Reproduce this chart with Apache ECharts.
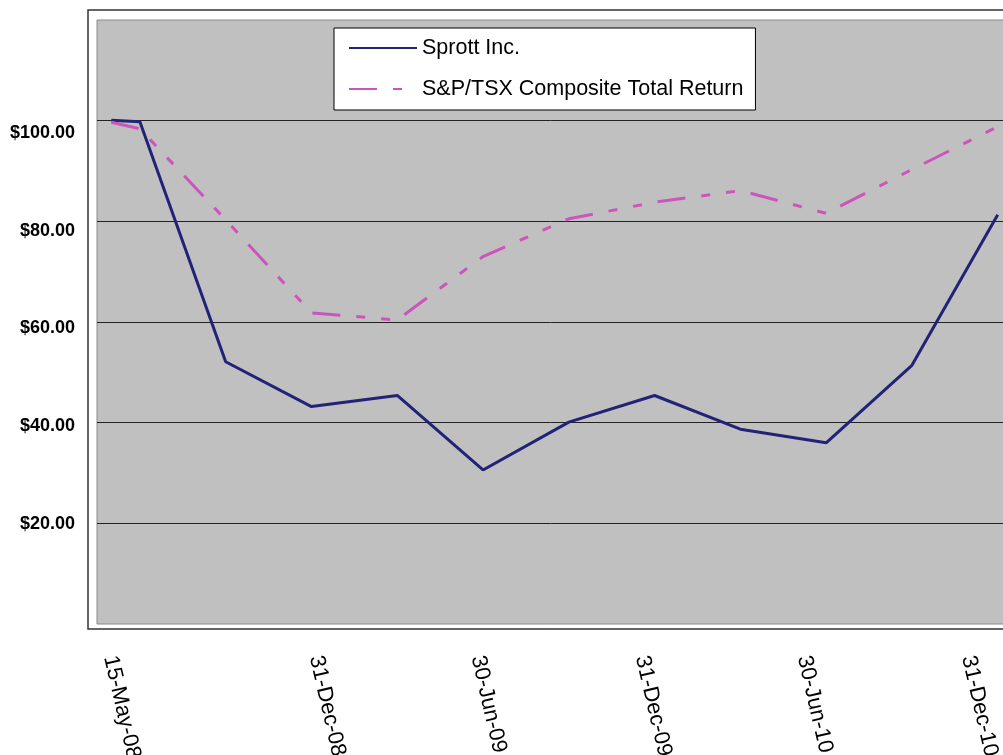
<!DOCTYPE html>
<html>
<head>
<meta charset="utf-8">
<script src="https://cdn.jsdelivr.net/npm/echarts@6/dist/echarts.min.js"></script>
<style>
  html, body { margin: 0; padding: 0; background: #fff; }
  #chart { width: 1003px; height: 755px; }
</style>
</head>
<body>
<div id="chart"></div>
<script>
// quarter-end dates of the index (first point is the start date)
var dates = ['15-May-08', '30-Jun-08', '30-Sep-08', '31-Dec-08', '31-Mar-09', '30-Jun-09',
  '30-Sep-09', '31-Dec-09', '31-Mar-10', '30-Jun-10', '30-Sep-10', '31-Dec-10'];
var sprott = [100.1, 99.8, 52.1, 43.2, 45.4, 30.6, 40.1, 45.4, 38.7, 36.0, 51.4, 81.3];
var tsx = [99.7, 98.4, 80.3, 61.8, 60.4, 73.0, 80.5, 83.8, 86.1, 81.6, 90.3, 98.8];
var tickLabels = ['15-May-08', '31-Dec-08', '30-Jun-09', '31-Dec-09', '30-Jun-10', '31-Dec-10'];
var yLabels = [20, 40, 60, 80, 100];

var MONTHS = ['Jan', 'Feb', 'Mar', 'Apr', 'May', 'Jun', 'Jul', 'Aug', 'Sep', 'Oct', 'Nov', 'Dec'];

function parseDate(s) {
  var p = s.split('-');
  return { d: +p[0], m: MONTHS.indexOf(p[1]), y: 2000 + (+p[2]) };
}
// the points sit on a month scale (Excel date axis, base unit months)
function monthIndex(s) {
  var t = parseDate(s);
  return (t.y - 2008) * 12 + t.m - 4;
}
// the labels sit on a day scale
function dayIndex(s) {
  var t = parseDate(s);
  return Math.round((Date.UTC(t.y, t.m, t.d) - Date.UTC(2008, 4, 15)) / 86400000);
}

var labelDays = tickLabels.map(dayIndex);

var chartDom = document.getElementById('chart');
var myChart = echarts.init(chartDom, null, { renderer: 'canvas' });

var option = {
  animation: false,
  backgroundColor: '#fff',
  textStyle: { fontFamily: 'Liberation Sans, Arial, sans-serif' },
  graphic: [
    {
      type: 'rect',
      z: -1,
      shape: { x: 88, y: 10, width: 1000, height: 619 },
      style: { fill: null, stroke: '#333', lineWidth: 1.5 }
    }
  ],
  // plot area runs off the right edge of the picture
  grid: {
    left: 97,
    top: 20,
    width: 915,
    height: 604,
    outerBoundsMode: 'none',
    show: true,
    backgroundColor: '#C0C0C0',
    borderColor: '#8a8a8a',
    borderWidth: 1
  },
  legend: {
    orient: 'vertical',
    left: 334,
    top: 28,
    padding: [9, 12, 10, 14],
    backgroundColor: '#fff',
    borderColor: '#000',
    borderWidth: 1,
    borderRadius: 0,
    itemWidth: 68,
    itemHeight: 14,
    itemGap: 19,
    itemStyle: { opacity: 0 },
    textStyle: { fontSize: 21.5, color: '#000', fontFamily: 'Liberation Sans, Arial, sans-serif' },
    data: ['Sprott Inc.', 'S&P/TSX Composite Total Return']
  },
  xAxis: [
    {
      type: 'value',
      min: -0.5,
      max: 31.5,
      show: false
    },
    {
      type: 'value',
      position: 'bottom',
      min: -14.55,
      max: 1009.25,
      axisLine: { show: false },
      axisTick: { show: false },
      splitLine: { show: false },
      axisLabel: {
        customValues: labelDays,
        rotate: -77,
        margin: 32,
        fontSize: 22,
        color: '#000',
        hideOverlap: false,
        formatter: function (v) {
          var i = labelDays.indexOf(v);
          return i >= 0 ? tickLabels[i] : '';
        }
      }
    }
  ],
  yAxis: [
    {
      type: 'value',
      min: 0,
      max: 120,
      interval: 20,
      axisLine: { show: false },
      axisTick: { show: false },
      axisLabel: { show: false },
      splitLine: {
        show: true,
        showMinLine: false,
        showMaxLine: false,
        lineStyle: { color: '#222', width: 1 }
      }
    },
    {
      type: 'value',
      position: 'left',
      min: -0.47,
      max: 123.1,
      axisLine: { show: false },
      axisTick: { show: false },
      splitLine: { show: false },
      axisLabel: {
        customValues: yLabels,
        margin: 22,
        fontSize: 18,
        fontWeight: 'bold',
        color: '#000',
        formatter: function (v) {
          return '$' + v.toFixed(2);
        }
      }
    }
  ],
  series: [
    {
      name: 'Sprott Inc.',
      type: 'line',
      xAxisIndex: 0,
      yAxisIndex: 0,
      symbol: 'none',
      color: '#222277',
      lineStyle: { color: '#222277', width: 3 },
      data: dates.map(function (d, i) { return [monthIndex(d), sprott[i]]; })
    },
    {
      name: 'S&P/TSX Composite Total Return',
      type: 'line',
      xAxisIndex: 0,
      yAxisIndex: 0,
      symbol: 'none',
      color: '#CC55BB',
      lineStyle: { color: '#CC55BB', width: 3, type: [28, 16, 9, 16, 9, 16] },
      data: dates.map(function (d, i) { return [monthIndex(d), tsx[i]]; })
    }
  ]
};

option && myChart.setOption(option);
</script>
</body>
</html>
